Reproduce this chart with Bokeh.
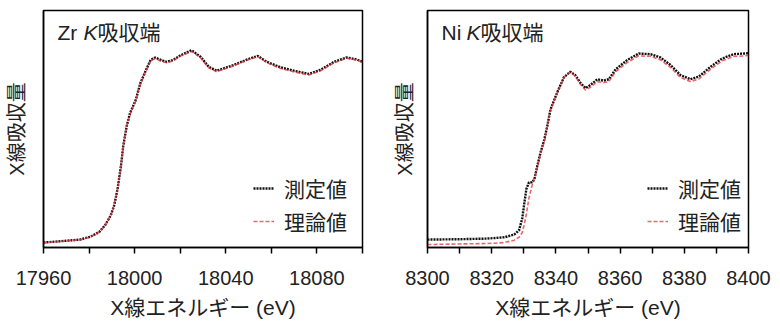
from bokeh.plotting import figure
from bokeh.layouts import row
from bokeh.models import FixedTicker, Range1d, Label, Legend, LegendItem, ColumnDataSource
from bokeh.embed import file_html
from bokeh.resources import INLINE

# ---------------- data ----------------
zr_energy = [17960, 17967.5, 17976, 17980.5, 17984.5, 17987, 17989.5, 17991, 17992.5, 17994,
             17995, 17996.5, 17998, 18000.5, 18002.5, 18005, 18007, 18009, 18011, 18014,
             18017, 18020, 18025, 18029, 18032.5, 18036, 18043.5, 18049.5, 18054, 18058,
             18064, 18070, 18076.5, 18081.5, 18087.5, 18093, 18097.5, 18100]
zr_measured = [0.025, 0.032, 0.040, 0.054, 0.079, 0.112, 0.162, 0.212, 0.296, 0.413,
               0.514, 0.614, 0.681, 0.748, 0.832, 0.899, 0.949, 0.962, 0.952, 0.940,
               0.950, 0.972, 0.999, 0.965, 0.915, 0.895, 0.924, 0.952, 0.970, 0.940,
               0.912, 0.895, 0.879, 0.899, 0.940, 0.962, 0.952, 0.940]
zr_theory = [0.024, 0.031, 0.039, 0.053, 0.078, 0.112, 0.163, 0.214, 0.298, 0.414,
             0.515, 0.612, 0.676, 0.742, 0.826, 0.893, 0.944, 0.957, 0.946, 0.935,
             0.946, 0.968, 0.993, 0.960, 0.910, 0.890, 0.920, 0.949, 0.967, 0.936,
             0.907, 0.889, 0.873, 0.894, 0.935, 0.958, 0.949, 0.937]

ni_energy = [8300, 8310, 8318.5, 8324, 8327, 8328.5, 8329.5, 8330.2, 8330.8, 8331.6,
             8332.6, 8333.3, 8334.2, 8335.2, 8336.4, 8337.3, 8338.3, 8340.4, 8342.5, 8344.5,
             8346, 8347.7, 8349.2, 8350.8, 8352.9, 8354.9, 8356.5, 8358.6, 8362.2, 8365.8,
             8369.5, 8372.6, 8375.7, 8378.8, 8381.9, 8384.5, 8388.2, 8391.8, 8395.4, 8398.5, 8400]
ni_measured = [0.040, 0.042, 0.045, 0.052, 0.065, 0.087, 0.146, 0.229, 0.296, 0.330,
               0.330, 0.346, 0.413, 0.480, 0.547, 0.614, 0.698, 0.785, 0.862, 0.890,
               0.873, 0.832, 0.807, 0.823, 0.852, 0.845, 0.852, 0.902, 0.949, 0.982,
               0.979, 0.962, 0.924, 0.873, 0.852, 0.865, 0.915, 0.957, 0.979, 0.982, 0.984]
ni_theory = [0.015, 0.018, 0.020, 0.025, 0.037, 0.052, 0.075, 0.120, 0.170, 0.250,
             0.315, 0.350, 0.407, 0.472, 0.540, 0.610, 0.695, 0.782, 0.860, 0.888,
             0.868, 0.825, 0.797, 0.812, 0.840, 0.835, 0.840, 0.890, 0.937, 0.970,
             0.968, 0.950, 0.912, 0.861, 0.840, 0.853, 0.903, 0.945, 0.967, 0.970, 0.972]

zr_major = [17960, 18000, 18040, 18080]
zr_minor = [17980, 18020, 18060, 18100]
ni_major = [8300, 8320, 8340, 8360, 8380, 8400]
ni_minor = [8310, 8330, 8350, 8370, 8390]

x_label = "X線エネルギー (eV)"
y_label = "X線吸収量"
legend_labels = ["測定値", "理論値"]

FONT = "Liberation Sans, Noto Sans CJK JP"
TXT = "#222222"
BLACK = "#111111"
RED = "#e8303a"


def panel(energy, meas, theo, xr, major, minor, element, width, bl, br, title_off, leg_x, ystand):
    p = figure(width=width, height=321, x_range=Range1d(xr[0], xr[1]), y_range=Range1d(0, 1.2),
               output_backend="svg", toolbar_location=None,
               min_border_left=bl, min_border_right=br, min_border_top=10, min_border_bottom=72)
    p.grid.visible = False
    p.outline_line_color = "black"
    p.outline_line_width = 1.5
    p.background_fill_color = None
    p.border_fill_color = None

    xa = p.xaxis[0]
    xa.ticker = FixedTicker(ticks=major, minor_ticks=minor)
    xa.major_tick_in = 0
    xa.major_tick_out = 6
    xa.minor_tick_in = 0
    xa.minor_tick_out = 6
    xa.major_tick_line_width = 1.5
    xa.minor_tick_line_width = 1.5
    xa.axis_line_width = 1.5
    xa.major_tick_line_color = "black"
    xa.minor_tick_line_color = "black"
    xa.major_label_text_font = FONT
    xa.major_label_text_font_size = "20px"
    xa.major_label_text_color = TXT
    xa.major_label_text_line_height = 0.6
    xa.major_label_standoff = 17
    xa.axis_label = x_label
    xa.axis_label_text_font = FONT
    xa.axis_label_text_font_size = "21px"
    xa.axis_label_text_font_style = "normal"
    xa.axis_label_text_color = TXT
    xa.axis_label_text_line_height = 0.6
    xa.axis_label_standoff = 8

    ya = p.yaxis[0]
    ya.ticker = FixedTicker(ticks=[])
    ya.major_tick_out = 0
    ya.major_tick_in = 0
    ya.minor_tick_out = 0
    ya.minor_tick_in = 0
    ya.major_label_standoff = 0
    ya.axis_line_width = 1.5
    ya.axis_label = y_label
    ya.axis_label_text_font = FONT
    ya.axis_label_text_font_size = "20px"
    ya.axis_label_text_font_style = "normal"
    ya.axis_label_text_color = TXT
    ya.axis_label_standoff = ystand

    src = ColumnDataSource(dict(e=energy, m=meas, t=theo))
    r1 = p.line("e", "m", source=src, line_color=BLACK, line_width=2.4, line_dash="2 1")
    r2 = p.line("e", "t", source=src, line_color=RED, line_width=1.6, line_alpha=0.75, line_dash="4 2")

    leg = Legend(items=[LegendItem(label=legend_labels[0], renderers=[r1]),
                        LegendItem(label=legend_labels[1], renderers=[r2])],
                 location=(leg_x, 11), border_line_color=None, background_fill_color=None,
                 background_fill_alpha=0, padding=0, margin=0, spacing=3,
                 glyph_width=21, glyph_height=28, label_height=28, label_standoff=10,
                 label_text_font=FONT, label_text_font_size="21px", label_text_color=TXT)
    p.add_layout(leg, "center")

    parts = [(element + " ", "normal", 0), ("K", "italic", title_off), ("吸収端", "normal", title_off + 14)]
    for txt, style, dx in parts:
        p.add_layout(Label(x=xr[0], y=1.2, x_offset=14 + dx, y_offset=-22, text=txt,
                           text_font=FONT, text_font_size="21px", text_font_style=style,
                           text_color=TXT, text_baseline="middle", text_align="left"))
    return p


p1 = panel(zr_energy, zr_measured, zr_theory, (17960, 18100), zr_major, zr_minor, "Zr",
           390, 43, 28, 26, 210, 16)
p2 = panel(ni_energy, ni_measured, ni_theory, (8300, 8400), ni_major, ni_minor, "Ni",
           390, 37, 32, 25, 220, 12)

layout = row(p1, p2)
open("out.html", "w").write(file_html(layout, INLINE))
